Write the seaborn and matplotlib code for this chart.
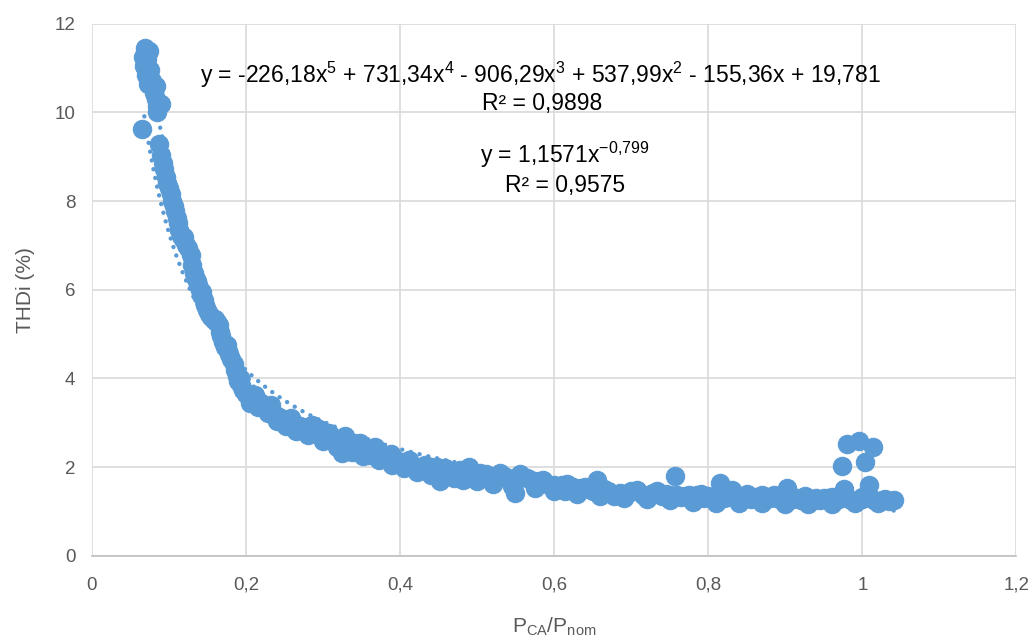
import numpy as np
import pandas as pd
import matplotlib
matplotlib.use("Agg")
import matplotlib.pyplot as plt
import seaborn as sns
from matplotlib.ticker import FuncFormatter

# ---- data ----
p_ratio = [
    0.069, 0.074, 0.066, 0.071, 0.068, 0.073, 0.076, 0.070, 0.075, 0.078,
    0.073, 0.079, 0.081, 0.083, 0.085, 0.084, 0.065, 0.087, 0.090, 0.092,
    0.094, 0.096, 0.098, 0.100, 0.102, 0.104, 0.106, 0.108, 0.110, 0.113,
    0.115, 0.118, 0.122, 0.125, 0.128, 0.130, 0.132, 0.134, 0.136, 0.138,
    0.140, 0.142, 0.145, 0.147, 0.149, 0.152, 0.155, 0.158, 0.162, 0.165,
    0.166, 0.168, 0.170, 0.173, 0.176, 0.178, 0.181, 0.184, 0.186, 0.188,
    0.190, 0.193, 0.196, 0.200, 0.205, 0.210, 0.215, 0.220, 0.225, 0.230,
    0.235, 0.240, 0.245, 0.250, 0.255, 0.260, 0.265, 0.270, 0.280, 0.290,
    0.295, 0.300, 0.305, 0.310, 0.315, 0.320, 0.324, 0.330, 0.335, 0.340,
    0.345, 0.350, 0.355, 0.359, 0.365, 0.370, 0.375, 0.383, 0.390, 0.395,
    0.400, 0.409, 0.415, 0.420, 0.430, 0.435, 0.440, 0.448, 0.452, 0.455,
    0.460, 0.468, 0.478, 0.482, 0.489, 0.495, 0.504, 0.510, 0.517, 0.525,
    0.530, 0.540, 0.549, 0.556, 0.560, 0.570, 0.580, 0.590, 0.600, 0.605,
    0.616, 0.614, 0.625, 0.635, 0.645, 0.655, 0.660, 0.670, 0.677, 0.685,
    0.695, 0.707, 0.715, 0.725, 0.733, 0.740, 0.750, 0.757, 0.764, 0.770,
    0.780, 0.785, 0.795, 0.805, 0.815, 0.820, 0.831, 0.840, 0.850, 0.855,
    0.865, 0.876, 0.885, 0.892, 0.902, 0.910, 0.920, 0.930, 0.937, 0.945,
    0.955, 0.965, 0.974, 0.976, 0.980, 0.985, 0.995, 0.995, 1.004, 1.008,
    1.014, 1.015, 1.025, 1.035, 1.041,
    # lower edge of the band
    0.205, 0.215, 0.228, 0.240, 0.252, 0.265, 0.280, 0.300, 0.318, 0.338,
    0.352, 0.372, 0.390, 0.405, 0.422, 0.440, 0.470, 0.500, 0.520, 0.545,
    0.575, 0.600, 0.630, 0.660, 0.690, 0.720, 0.750, 0.780, 0.810, 0.840,
    0.870, 0.900, 0.930, 0.960, 0.990, 1.020,
    # middle / upper fill of the band
    0.083, 0.089, 0.112, 0.120, 0.143, 0.160, 0.175, 0.192, 0.212, 0.232,
    0.258, 0.285, 0.308, 0.328, 0.348, 0.368, 0.388, 0.412, 0.432, 0.458,
    0.485, 0.512, 0.535, 0.565, 0.585, 0.610, 0.640, 0.665, 0.700, 0.728,
    0.745, 0.775, 0.800, 0.825, 0.845, 0.862, 0.880, 0.897, 0.915, 0.940,
    0.950, 0.970, 1.000, 1.030, 0.610, 0.650, 0.690, 0.760, 0.790, 0.835,
    0.870, 0.925, 0.960, 1.000,
]
thdi = [
    11.45, 11.38, 11.25, 11.20, 11.05, 11.00, 10.95, 10.85, 10.78, 10.70,
    10.65, 10.55, 10.45, 10.30, 10.15, 10.00, 9.63, 9.30, 9.05, 8.85,
    8.72, 8.55, 8.42, 8.30, 8.15, 8.00, 7.90, 7.78, 7.62, 7.35,
    7.22, 7.15, 7.00, 6.95, 6.78, 6.55, 6.38, 6.30, 6.20, 6.10,
    6.00, 5.88, 5.77, 5.65, 5.55, 5.45, 5.38, 5.32, 5.28, 5.20,
    5.05, 4.95, 4.82, 4.72, 4.62, 4.55, 4.45, 4.33, 4.20, 4.05,
    3.95, 3.85, 3.75, 3.65, 3.60, 3.55, 3.50, 3.45, 3.38, 3.32,
    3.22, 3.15, 3.10, 3.05, 3.00, 2.97, 2.95, 2.92, 2.90, 2.90,
    2.85, 2.80, 2.75, 2.70, 2.62, 2.62, 2.32, 2.60, 2.55, 2.55,
    2.50, 2.45, 2.40, 2.28, 2.42, 2.35, 2.30, 2.24, 2.20, 2.15,
    2.12, 2.09, 2.05, 2.00, 1.98, 1.94, 2.00, 2.01, 1.68, 1.95,
    1.90, 1.92, 1.94, 1.71, 2.00, 1.85, 1.87, 1.80, 1.79, 1.80,
    1.87, 1.75, 1.41, 1.85, 1.78, 1.70, 1.68, 1.62, 1.60, 1.52,
    1.62, 1.45, 1.55, 1.52, 1.50, 1.72, 1.48, 1.45, 1.35, 1.42,
    1.40, 1.48, 1.38, 1.40, 1.45, 1.35, 1.38, 1.80, 1.32, 1.35,
    1.32, 1.38, 1.30, 1.32, 1.65, 1.30, 1.48, 1.30, 1.40, 1.28,
    1.30, 1.30, 1.38, 1.28, 1.52, 1.28, 1.25, 1.30, 1.26, 1.25,
    1.30, 1.25, 2.02, 1.50, 2.52, 1.25, 2.58, 1.25, 2.12, 1.60,
    2.45, 1.25, 1.25, 1.24, 1.25,
    3.45, 3.35, 3.22, 3.05, 2.92, 2.82, 2.72, 2.60, 2.45, 2.35,
    2.25, 2.15, 2.05, 1.98, 1.90, 1.82, 1.75, 1.68, 1.62, 1.58,
    1.52, 1.45, 1.40, 1.35, 1.30, 1.28, 1.25, 1.22, 1.20, 1.18,
    1.18, 1.17, 1.17, 1.17, 1.18, 1.18,
    10.60, 10.20, 7.50, 7.20, 5.95, 5.35, 4.75, 4.00, 3.62, 3.40,
    3.10, 2.95, 2.78, 2.70, 2.55, 2.45, 2.30, 2.15, 2.05, 1.98,
    1.92, 1.85, 1.80, 1.75, 1.70, 1.60, 1.55, 1.50, 1.45, 1.42,
    1.40, 1.36, 1.34, 1.33, 1.32, 1.33, 1.30, 1.32, 1.30, 1.30,
    1.30, 1.28, 1.28, 1.28, 1.52, 1.46, 1.40, 1.38, 1.40, 1.38,
    1.36, 1.34, 1.32, 1.32,
]

# trendline equations shown on the chart
poly_coefs = [-226.18, 731.34, -906.29, 537.99, -155.36, 19.781]  # x^5 ... x^0
power_a = 1.1571
power_b = -0.799

poly_label = "y = -226,18x$^{5}$ + 731,34x$^{4}$ - 906,29x$^{3}$ + 537,99x$^{2}$ - 155,36x + 19,781"
poly_r2 = "R² = 0,9898"
power_label = "y = 1,1571x$^{-0{,}799}$"
power_r2 = "R² = 0,9575"

x_ticks = [0, 0.2, 0.4, 0.6, 0.8, 1.0, 1.2]
y_ticks = [0, 2, 4, 6, 8, 10, 12]

# ---- figure ----
sns.set_style("white")
plt.rcParams['font.family'] = ['Liberation Sans', 'DejaVu Sans']
plt.rcParams['mathtext.fontset'] = 'custom'
plt.rcParams['mathtext.rm'] = 'Liberation Sans'
plt.rcParams['mathtext.it'] = 'Liberation Sans'
plt.rcParams['mathtext.default'] = 'regular'

blue = "#5B9BD5"
fig = plt.figure(figsize=(10.33, 6.44), dpi=100)
ax = fig.add_axes([0.089, 0.137, 0.895, 0.826])

df = pd.DataFrame({"x": p_ratio, "y": thdi})
xs = np.linspace(0.068, max(p_ratio), 400)
trend = pd.DataFrame({"x": xs,
                      "poly": np.polyval(poly_coefs, xs),
                      "power": power_a * xs ** power_b})

sns.scatterplot(data=df, x="x", y="y", ax=ax, s=175, color=blue,
                edgecolor=blue, linewidth=0.8, zorder=3, legend=False)
for col in ["poly", "power"]:
    sns.lineplot(data=trend, x="x", y=col, ax=ax, color=blue, lw=3.2,
                 zorder=4, legend=False,
                 linestyle=(0, (0.01, 2.0)), dash_capstyle="round")

ax.set_xlim(0, 1.2)
ax.set_ylim(0, 12)
ax.set_xticks(x_ticks)
ax.set_yticks(y_ticks)
fmt = FuncFormatter(lambda v, p: (f"{v:g}").replace(".", ","))
ax.xaxis.set_major_formatter(fmt)
ax.yaxis.set_major_formatter(fmt)
ax.grid(True, color="#D9D9D9", lw=1.2)
ax.set_axisbelow(True)
for s in ["top", "right", "left"]:
    ax.spines[s].set_visible(False)
ax.spines["bottom"].set_color("#BFBFBF")
ax.spines["bottom"].set_linewidth(1.2)
ax.tick_params(axis="both", length=0, labelsize=13.5, labelcolor="#595959", pad=15)
ax.tick_params(axis="y", pad=12)

ax.set_xlabel(r"P$_{\mathregular{CA}}$/P$_{\mathregular{nom}}$", fontsize=15, color="#595959", labelpad=16)
ax.set_ylabel("THDi (%)", fontsize=15, color="#595959", labelpad=14)

fs = 16.5
ax.text(0.582, 10.85, poly_label, fontsize=fs, ha="center", va="center", color="black")
ax.text(0.584, 10.2, poly_r2, fontsize=fs, ha="center", va="center", color="black")
ax.text(0.614, 9.05, power_label, fontsize=fs, ha="center", va="center", color="black")
ax.text(0.614, 8.35, power_r2, fontsize=fs, ha="center", va="center", color="black")

fig.savefig("out.png", dpi=100)
